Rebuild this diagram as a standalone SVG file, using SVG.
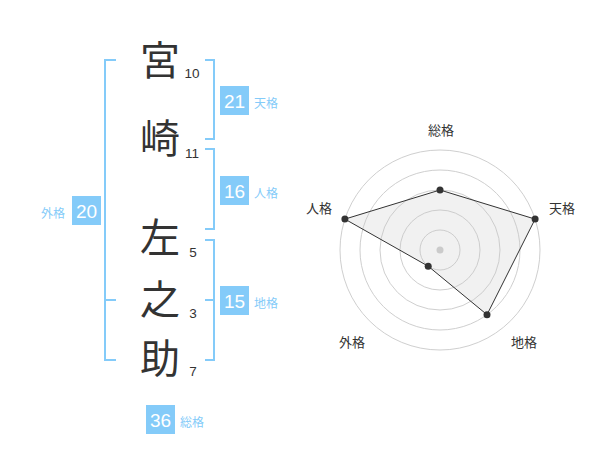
<svg xmlns="http://www.w3.org/2000/svg" width="600" height="470" viewBox="0 0 600 470">
<style>
.k{font-family:"Noto Sans CJK JP","Noto Sans CJK SC",sans-serif;font-size:40px;fill:#333;text-anchor:middle}
.n{font-family:"Liberation Sans",Arial,sans-serif;font-size:13.5px;fill:#333;text-anchor:middle}
.br{fill:none;stroke:#84cbf9;stroke-width:2}
.bx{fill:#84cbf9}
.bt{font-family:"Liberation Sans",Arial,sans-serif;font-size:19px;fill:#fff;text-anchor:middle}
.bl{font-family:"Noto Sans CJK JP",sans-serif;font-size:12px;fill:#84cbf9}
.rl{font-family:"Noto Sans CJK JP",sans-serif;font-size:13px;fill:#333;text-anchor:middle}
.ring{fill:none;stroke:#cfcfcf;stroke-width:1}
.pt{fill:#333}
</style>
<rect width="600" height="470" fill="#fff"/>
<g id="connectors">
<path class="br" d="M116,60 H105 V360 H116 M105,300 H116"/>
<path class="br" d="M205,60 H214 V139 H205"/>
<path class="br" d="M205,149 H214 V229 H205"/>
<path class="br" d="M205,240 H214 V360 H205 M214,300 H205"/>
</g>
<g id="char-miya"><text class="k" x="160" y="75">宮</text><text class="n" x="192" y="77.5">10</text></g>
<g id="char-saki"><text class="k" x="160" y="153">崎</text><text class="n" x="192" y="157.5">11</text></g>
<g id="char-sa"><text class="k" x="160" y="252">左</text><text class="n" x="193" y="257">5</text></g>
<g id="char-no"><text class="k" x="160" y="314">之</text><text class="n" x="193" y="317.5">3</text></g>
<g id="char-suke"><text class="k" x="160" y="373">助</text><text class="n" x="193" y="376">7</text></g>
<g id="tenkaku"><rect class="bx" x="220" y="86" width="29" height="29"/><text class="bt" x="234.5" y="107.5">21</text><text class="bl" x="254" y="108">天格</text></g>
<g id="jinkaku"><rect class="bx" x="220" y="176" width="29" height="29"/><text class="bt" x="234.5" y="197.5">16</text><text class="bl" x="254" y="198">人格</text></g>
<g id="chikaku"><rect class="bx" x="220" y="286" width="29" height="29"/><text class="bt" x="234.5" y="307.5">15</text><text class="bl" x="254" y="308">地格</text></g>
<g id="gaikaku"><rect class="bx" x="72" y="196" width="29" height="29"/><text class="bt" x="86.5" y="217.5">20</text><text class="bl" x="41" y="218">外格</text></g>
<g id="soukaku"><rect class="bx" x="146" y="405" width="29" height="29"/><text class="bt" x="160.5" y="426.5">36</text><text class="bl" x="180" y="427">総格</text></g>
<g id="radar">
<circle class="ring" cx="440" cy="250" r="20"/>
<circle class="ring" cx="440" cy="250" r="40"/>
<circle class="ring" cx="440" cy="250" r="60"/>
<circle class="ring" cx="440" cy="250" r="80"/>
<circle class="ring" cx="440" cy="250" r="100"/>
<circle cx="440" cy="250" r="3.5" fill="#cccccc"/>
<polygon points="440,190 535.1,219.1 487,314.7 428.2,266.2 344.9,219.1" fill="rgba(200,200,200,0.25)" stroke="#333" stroke-width="1"/>
<circle class="pt" cx="440" cy="190" r="3.5"/>
<circle class="pt" cx="535.1" cy="219.1" r="3.5"/>
<circle class="pt" cx="487" cy="314.7" r="3.5"/>
<circle class="pt" cx="428.2" cy="266.2" r="3.5"/>
<circle class="pt" cx="344.9" cy="219.1" r="3.5"/>
<text class="rl" x="441" y="135">総格</text>
<text class="rl" x="562" y="213">天格</text>
<text class="rl" x="524" y="347">地格</text>
<text class="rl" x="352" y="347">外格</text>
<text class="rl" x="319" y="213">人格</text>
</g>
</svg>
